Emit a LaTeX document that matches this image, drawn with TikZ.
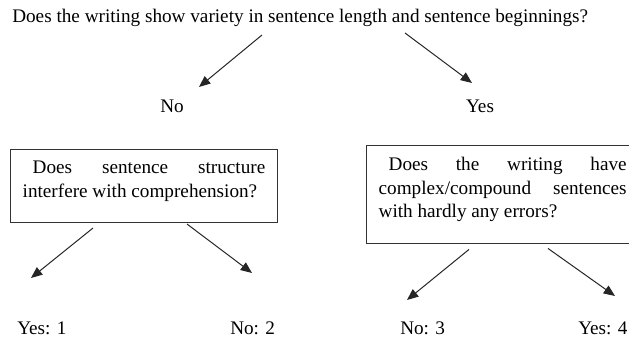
\documentclass[tikz,border=0pt]{standalone}
\usepackage{fontspec}
\setmainfont{Liberation Serif}
\usepackage{tikz}
\usetikzlibrary{arrows.meta, positioning, calc}

\begin{document}
\begin{tikzpicture}[
    x=0.75pt, y=-0.75pt,
    font=\fontsize{14.4pt}{17.8pt}\selectfont,
    lbl/.style={inner sep=0pt},
    qbox/.style={draw=black!80, line width=1pt, anchor=north west, align=justify,
                 inner xsep=9pt, inner ysep=8.5pt,
                 execute at begin node={\hyphenpenalty=10000\tolerance=10000}},
    arr/.style={-{Triangle[length=8.5pt, width=7pt]}, draw=black!85, line width=0.75pt},
  ]
  \useasboundingbox (0,0) rectangle (629,341);
  \clip (0,0) rectangle (629,341);

  % top question and its two answers
  \node[lbl, anchor=base west] (q) at (12,23)
    {Does the writing show variety in sentence length and sentence beginnings?};
  \node[lbl, anchor=base] (no) at (172,113) {No};
  \node[lbl, anchor=base] (yes) at (480,113) {Yes};

  \coordinate (tipNo) at (199,87);
  \coordinate (tipYes) at (472,83);
  \draw[arr] ([shift={(250,12)}]q.base west) -- (tipNo);
  \draw[arr] ([shift={(393,10)}]q.base west) -- (tipYes);

  % second level questions
  \node[qbox, text width=182pt] (bx1) at (10,149)
    {\hspace*{7.5pt}Does sentence structure interfere with comprehension?\rule[-10.3pt]{0pt}{10.3pt}};
  \node[qbox, text width=186pt] (bx2) at (366,145)
    {\hspace*{7.5pt}Does the writing have complex/compound sentences with hardly any errors?\rule[-11pt]{0pt}{11pt}};

  % scores
  \node[lbl, anchor=base west] (s1) at (17,335) {Yes: 1};
  \node[lbl, anchor=base west] (s2) at (230,335) {No: 2};
  \node[lbl, anchor=base west] (s3) at (400,335) {No: 3};
  \node[lbl, anchor=base west] (s4) at (578,335) {Yes: 4};

  \coordinate (tip1) at (31,278);
  \coordinate (tip2) at (252,273);
  \coordinate (tip3) at (407,300);
  \coordinate (tip4) at (615,296);
  \draw[arr] ([shift={(83,5)}]bx1.south west) -- (tip1);
  \draw[arr] ([shift={(177,1)}]bx1.south west) -- (tip2);
  \draw[arr] ([shift={(103,5)}]bx2.south west) -- (tip3);
  \draw[arr] ([shift={(182,4)}]bx2.south west) -- (tip4);
\end{tikzpicture}
\end{document}
